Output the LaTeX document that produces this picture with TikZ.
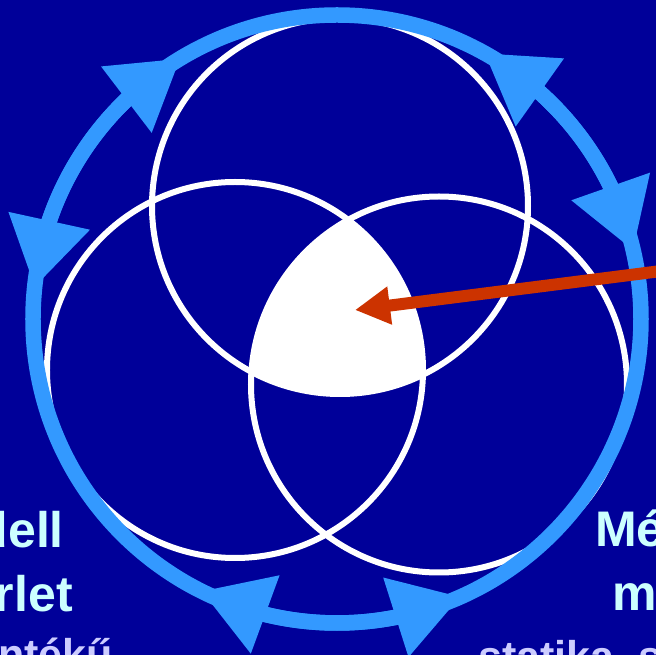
\documentclass[tikz,border=0pt]{standalone}
\usepackage{fontspec}
\setmainfont{Liberation Sans}
\usetikzlibrary{arrows.meta, bending}

\definecolor{slidebg}{HTML}{000099}
\definecolor{ringblue}{HTML}{3399FF}
\definecolor{pointred}{HTML}{CC3300}
\definecolor{titlecyan}{HTML}{CCFFFF}
\definecolor{notelilac}{HTML}{CCCCFF}

\begin{document}
\begin{tikzpicture}[
    x=1pt, y=1pt,
    font=\bfseries,
    % Define styles for the different parts
    setcircle/.style={circle, draw=white, line width=6pt, inner sep=0pt, minimum size=376pt},
    cyclering/.style={draw=ringblue, line width=15.5pt},
    cyclearrow/.style={draw=ringblue, line width=15.5pt, {Triangle[width=79pt, length=68pt, flex]}-{Triangle[width=79pt, length=68pt, flex]}},
    pointer/.style={draw=pointred, line width=12pt, -{Triangle[width=36pt, length=35pt]}},
    bigtext/.style={text=titlecyan, inner sep=0pt, font=\bfseries\fontsize{50}{60}\selectfont},
    smalltext/.style={text=notelilac, inner sep=0pt, font=\bfseries\fontsize{43}{52}\selectfont},
]

% -------------------------
% Frame
% -------------------------
\useasboundingbox (-337,-336) rectangle (319,319);
\fill[slidebg] (-337,-336) rectangle (319,319);
\clip (-337,-336) rectangle (319,319);

\coordinate (hub) at (0,0);

% -------------------------
% The three sets
% -------------------------
\node (topset) [setcircle] at (3,113) {};
\node (leftset) [setcircle] at (-102,-51) {};
\node (rightset) [setcircle] at (102,-65.5) {};

% Common part of all three
\begin{scope}
    \clip (topset.center) circle[radius=188pt];
    \clip (leftset.center) circle[radius=188pt];
    \fill[white] (rightset.center) circle[radius=188pt];
\end{scope}

% -------------------------
% Cycle around the sets
% -------------------------
\draw[cyclering] (hub) circle[radius=304pt];
\draw[cyclearrow] (121:304pt) arc[start angle=121, end angle=174, radius=304pt];
\draw[cyclearrow] (243.5:304pt) arc[start angle=243.5, end angle=294, radius=304pt];
\draw[cyclearrow] (13:304pt) arc[start angle=13, end angle=61, radius=304pt];

% -------------------------
% Pointer to the common part
% -------------------------
\coordinate (core) at (18,9);
\coordinate (outside) at (340,50);
\draw[pointer] (outside) -- (core);

% -------------------------
% Labels
% -------------------------
\node (modelA) [bigtext, anchor=base east] at (-273,-229) {dell};
\node (modelB) [bigtext, anchor=base east] at (-264,-293) {rlet};
\node (modelC) [smalltext, anchor=base east] at (-224,-350) {ntékű};
\node (measA) [bigtext, anchor=base west] at (258,-228) {Mé};
\node (measB) [bigtext, anchor=base west] at (275,-291) {m};
\node (measC) [smalltext, anchor=base west] at (141,-352) {statika, s};

\end{tikzpicture}
\end{document}
